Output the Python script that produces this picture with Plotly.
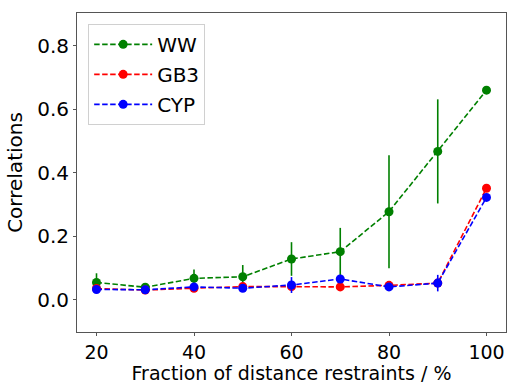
import plotly.graph_objects as go

fractions = [20, 30, 40, 50, 60, 70, 80, 90, 100]
ww = [0.054, 0.039, 0.067, 0.072, 0.128, 0.151, 0.277, 0.467, 0.660]
ww_err = [0.029, 0.008, 0.028, 0.037, 0.053, 0.075, 0.178, 0.164, 0.004]
gb3 = [0.035, 0.030, 0.036, 0.041, 0.041, 0.040, 0.045, 0.052, 0.351]
gb3_err = [0.006, 0.004, 0.006, 0.005, 0.012, 0.004, 0.005, 0.006, 0.004]
cyp = [0.032, 0.031, 0.040, 0.036, 0.046, 0.065, 0.040, 0.052, 0.322]
cyp_err = [0.006, 0.004, 0.006, 0.005, 0.025, 0.008, 0.005, 0.026, 0.004]

series = [("WW", ww, ww_err, "#008000"),
          ("GB3", gb3, gb3_err, "#ff0000"),
          ("CYP", cyp, cyp_err, "#0000ff")]

fig = go.Figure()
for name, vals, errs, col in series:
    fig.add_trace(go.Scatter(
        x=fractions, y=vals, name=name, legendgroup=name,
        mode="lines+markers",
        line=dict(color=col, width=1.6, dash="5.5px,2.5px"),
        marker=dict(color=col, size=9),
        error_y=dict(type="data", array=errs, visible=True, color=col,
                     thickness=1.6, width=0),
    ))

font = "DejaVu Sans, sans-serif"
FS = 20
axis_common = dict(showline=True, linecolor="#555", linewidth=1, mirror=True,
                   showgrid=False, zeroline=False, ticks="outside", ticklen=3,
                   automargin=False, tickcolor="#555")

fig.update_layout(
    width=508, height=384,
    margin=dict(l=77, r=2, t=13, b=52),
    paper_bgcolor="white", plot_bgcolor="white",
    font=dict(family=font, color="black", size=FS),
    showlegend=True,
    legend=dict(x=0.026, y=0.966, xanchor="left", yanchor="top",
                bgcolor="white", bordercolor="#d0d0d0", borderwidth=1,
                font=dict(size=FS, family=font), tracegroupgap=1,
                traceorder="grouped", itemwidth=58),
    xaxis=dict(range=[16, 104], tickvals=[20, 40, 60, 80, 100],
               tickfont=dict(size=19, color="black", family=font),
               title=dict(text="Fraction of distance restraints / %",
                          font=dict(size=19, family=font)),
               **axis_common),
    yaxis=dict(range=[-0.102, 0.903], tickvals=[0.0, 0.2, 0.4, 0.6, 0.8],
               tickformat=".1f",
               tickfont=dict(size=FS, color="black", family=font),
               title=dict(text="Correlations", standoff=9,
                          font=dict(size=FS, family=font)),
               **axis_common),
)

fig.write_html("out.html")
